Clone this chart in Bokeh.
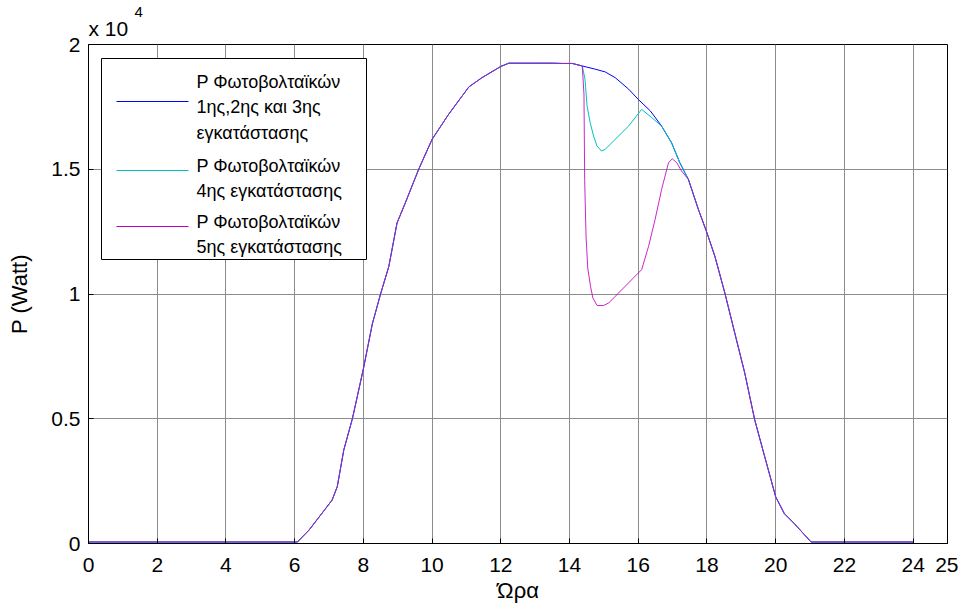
from bokeh.plotting import figure
from bokeh.models import FixedTicker, Title, Label, BoxAnnotation, Arrow
from bokeh.embed import file_html
from bokeh.resources import INLINE

# ---- data (Watt vs hour) ----
hours_1 = [0.0, 6.0, 6.08, 6.42, 7.09, 7.24, 7.43, 7.68, 8.0, 8.26, 8.5, 8.74, 8.98, 9.22,
           9.61, 10.0, 10.48, 11.07, 11.45, 12.0, 12.23, 12.6, 13.0, 13.5, 13.79, 14.08,
           14.37, 14.75, 15.04, 15.33, 15.72, 16.0, 16.35, 16.68, 16.97, 17.21, 17.46,
           17.75, 18.0, 18.23, 18.52, 18.81, 19.1, 19.39, 19.68, 20.0, 20.25, 20.54,
           21.03, 24.0]
power_1 = [60, 60, 60, 540, 1740, 2280, 3750, 5000, 7000, 8800, 10000, 11100, 12850, 13650,
           15000, 16200, 17200, 18300, 18670, 19120, 19250, 19250, 19250, 19250, 19240, 19240,
           19140, 19010, 18900, 18670, 18210, 17800, 17340, 16730, 16060, 15260, 14590,
           13390, 12450, 11510, 10040, 8430, 6830, 4950, 3480, 1870, 1200, 800,
           60, 60]

# installation 4 deviation (cloud shading)
dip4_hours = [14.45, 14.51, 14.60, 14.70, 14.80, 14.93, 15.04, 15.33, 15.72, 16.10, 16.39]
dip4_power = [18610, 17540, 16870, 16330, 15930, 15730, 15800, 16200, 16730, 17400, 17070]

# installation 5 deviation
dip5_hours = [14.42, 14.44, 14.48, 14.53, 14.61, 14.68, 14.80, 14.99, 15.14, 16.10, 16.30,
              16.49, 16.68, 16.88, 16.99, 17.12, 17.26]
dip5_power = [18010, 14590, 12320, 11040, 10310, 9840, 9540, 9540, 9640, 10980, 11910,
              12990, 14190, 15260, 15420, 15260, 14930]

x_ticks = [0, 2, 4, 6, 8, 10, 12, 14, 16, 18, 20, 22, 24, 25]
y_ticks = [0, 5000, 10000, 15000, 20000]
y_tick_labels = ["0", "0.5", "1", "1.5", "2"]

legend_lines = [["P Φωτοβολταϊκών", "1ης,2ης και 3ης", "εγκατάστασης"],
                ["P Φωτοβολταϊκών", "4ης εγκατάστασης"],
                ["P Φωτοβολταϊκών", "5ης εγκατάστασης"]]
colors = ["#0000FF", "#00C0C0", "#C000C0"]


def merge(base_h, base_p, dip_h, dip_p):
    h0, h1 = dip_h[0], dip_h[-1]
    hh = [h for h in base_h if h < h0]
    pp = [p for h, p in zip(base_h, base_p) if h < h0]
    hh += dip_h
    pp += dip_p
    hh += [h for h in base_h if h > h1]
    pp += [p for h, p in zip(base_h, base_p) if h > h1]
    return hh, pp


hours_4, power_4 = merge(hours_1, power_1, dip4_hours, dip4_power)
hours_5, power_5 = merge(hours_1, power_1, dip5_hours, dip5_power)

FONT = "Liberation Sans"

p = figure(width=958, height=605, x_range=(0, 25), y_range=(0, 20000), title=None,
           output_backend="svg", toolbar_location=None,
           min_border_left=88, min_border_right=11, min_border_top=42, min_border_bottom=60)

p.line(hours_1, power_1, line_color=colors[0], line_width=1)
p.line(hours_4, power_4, line_color=colors[1], line_width=1)
p.line(hours_5, power_5, line_color=colors[2], line_width=1, line_alpha=0.85)

p.xaxis.ticker = FixedTicker(ticks=x_ticks)
p.yaxis.ticker = FixedTicker(ticks=y_ticks)
p.yaxis.major_label_overrides = {t: l for t, l in zip(y_ticks, y_tick_labels)}

for ax in (p.xaxis[0], p.yaxis[0]):
    ax.axis_line_color = "black"
    ax.axis_line_width = 1
    ax.major_tick_in = 5
    ax.major_tick_out = 0
    ax.minor_tick_out = 0
    ax.minor_tick_in = 0
    ax.major_label_text_font = FONT
    ax.major_label_text_font_size = "21px"
    ax.major_label_text_color = "black"
    ax.axis_label_text_font = FONT
    ax.axis_label_text_font_size = "22px"
    ax.axis_label_text_font_style = "normal"
    ax.axis_label_text_color = "black"

p.xaxis.axis_label = "Ώρα"
p.yaxis.axis_label = "P (Watt)"
p.xaxis.major_label_standoff = 14
p.yaxis.major_label_standoff = 8
p.xaxis.axis_label_standoff = 3
p.yaxis.axis_label_standoff = 16

p.xgrid.grid_line_color = "#8c8c8c"
p.ygrid.grid_line_color = "#8c8c8c"
p.xgrid.grid_line_width = 1
p.ygrid.grid_line_width = 1

p.outline_line_color = "black"
p.outline_line_width = 1
p.outline_line_alpha = 1
p.background_fill_color = "white"
p.border_fill_color = "white"

# ---- legend drawn as annotations (screen units, frame-relative, y up) ----
p.add_layout(BoxAnnotation(left=13, right=278, top=485, bottom=284,
                           left_units="screen", right_units="screen",
                           top_units="screen", bottom_units="screen",
                           fill_color="white", fill_alpha=1,
                           line_color="black", line_width=1, line_alpha=1))
sample_y = [442, 373, 317]
text_baselines = [[462, 437, 411], [378, 353], [322, 297]]
for col, sy, lines, bys in zip(colors, sample_y, legend_lines, text_baselines):
    p.add_layout(Arrow(x_start=28, y_start=sy, x_end=100, y_end=sy,
                       start_units="screen", end_units="screen",
                       end=None, start=None, line_color=col, line_width=1))
    for txt, by in zip(lines, bys):
        p.add_layout(Label(x=108, y=by, x_units="screen", y_units="screen", text=txt,
                           text_font=FONT, text_font_size="18px", text_color="black",
                           text_baseline="alphabetic", text_align="left"))

# ---- scale factor "x 10^4" ----
p.add_layout(Title(text="x 10", align="left", offset=0, standoff=9,
                   text_font=FONT, text_font_size="21px", text_font_style="normal",
                   text_color="black"), "above")
p.add_layout(Label(x=46, y=-1, x_units="screen", y_units="screen", text="4",
                   text_font=FONT, text_font_size="15px", text_color="black",
                   text_baseline="alphabetic", text_align="left"), "above")

open("out.html", "w").write(file_html(p, INLINE))
